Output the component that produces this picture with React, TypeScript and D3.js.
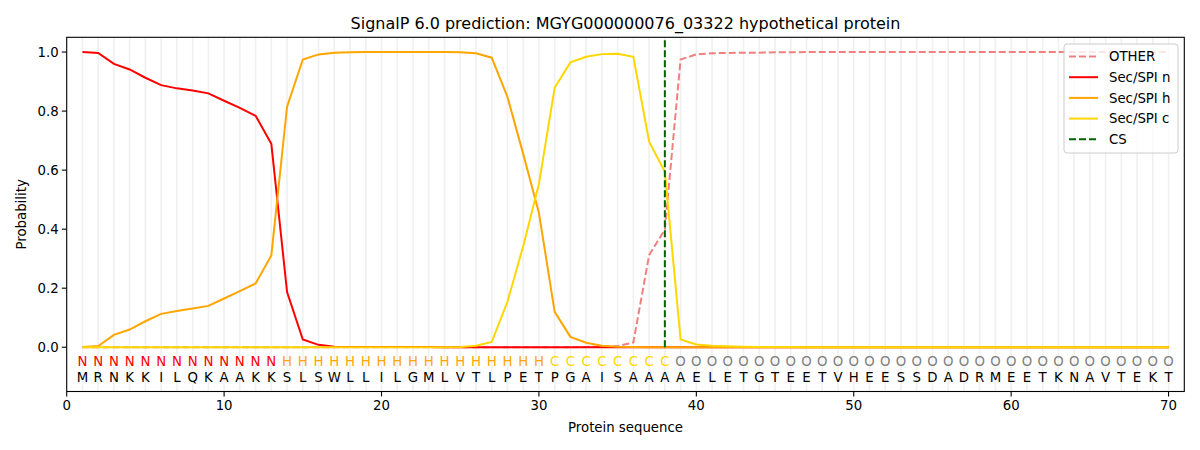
import * as d3 from "d3";

// per-residue probabilities (positions 1..70)
const sequence = "MRNKKILQKAAKKSLSWLLILGMLVTLPETPGAISAAAAELETGTEETVHEESSDADRMEETKNAVTEKT".split("");
const labels = "NNNNNNNNNNNNNHHHHHHHHHHHHHHHHHCCCCCCCCOOOOOOOOOOOOOOOOOOOOOOOOOOOOOOOO".split("");

const other = [
  0, 0, 0, 0, 0, 0, 0, 0, 0, 0,
  0, 0, 0, 0, 0, 0, 0, 0, 0, 0,
  0, 0, 0, 0, 0, 0, 0, 0, 0, 0,
  0, 0, 0.001, 0.002, 0.004, 0.016, 0.312, 0.399, 0.975, 0.992,
  0.996, 0.997, 0.998, 0.998, 0.999, 0.999, 1, 1, 1, 1,
  1, 1, 1, 1, 1, 1, 1, 1, 1, 1,
  1, 1, 1, 1, 1, 1, 1, 1, 1, 1,
];
const secN = [
  1.0, 0.997, 0.96, 0.941, 0.913, 0.888, 0.877, 0.87, 0.86, 0.835,
  0.811, 0.784, 0.689, 0.187, 0.026, 0.008, 0.002, 0.001, 0.001, 0.001,
  0.001, 0.001, 0.001, 0, 0, 0, 0, 0, 0, 0,
  0, 0, 0, 0, 0, 0, 0, 0, 0, 0,
  0, 0, 0, 0, 0, 0, 0, 0, 0, 0,
  0, 0, 0, 0, 0, 0, 0, 0, 0, 0,
  0, 0, 0, 0, 0, 0, 0, 0, 0, 0,
];
const secH = [
  0.001, 0.004, 0.042, 0.06, 0.088, 0.113, 0.123, 0.131, 0.14, 0.165,
  0.19, 0.216, 0.311, 0.815, 0.975, 0.992, 0.998, 0.999, 1.0, 1.0,
  1.0, 1.0, 1.0, 1.0, 0.999, 0.996, 0.981, 0.848, 0.655, 0.455,
  0.12, 0.035, 0.015, 0.005, 0.002, 0.001, 0, 0, 0, 0,
  0, 0, 0, 0, 0, 0, 0, 0, 0, 0,
  0, 0, 0, 0, 0, 0, 0, 0, 0, 0,
  0, 0, 0, 0, 0, 0, 0, 0, 0, 0,
];
const secC = [
  0, 0, 0, 0, 0, 0, 0, 0, 0, 0,
  0, 0, 0, 0, 0, 0, 0, 0, 0, 0,
  0, 0, 0, 0, 0.001, 0.005, 0.018, 0.154, 0.342, 0.553,
  0.879, 0.965, 0.984, 0.993, 0.994, 0.984, 0.696, 0.594, 0.026, 0.009,
  0.005, 0.003, 0.002, 0.001, 0.001, 0.001, 0, 0, 0, 0,
  0, 0, 0, 0, 0, 0, 0, 0, 0, 0,
  0, 0, 0, 0, 0, 0, 0, 0, 0, 0,
];
const csPos = 38;

const xTicks = [0, 10, 20, 30, 40, 50, 60, 70];
const yTicks = [0, 0.2, 0.4, 0.6, 0.8, 1.0];

const labelColor: Record<string, string> = { N: "#ff0000", H: "#ffa500", C: "#ffd700", O: "#808080" };

const series = [
  { name: "OTHER", values: other, color: "#f08080", dash: "7,3" },
  { name: "Sec/SPI n", values: secN, color: "#ff0000", dash: "" },
  { name: "Sec/SPI h", values: secH, color: "#ffa500", dash: "" },
  { name: "Sec/SPI c", values: secC, color: "#ffd700", dash: "" },
];

const W = 1200;
const H = 450;
const font = "DejaVu Sans, sans-serif";

export default function App() {
  const x = d3.scaleLinear().domain([0, 71]).range([66.7, 1184.3]);
  const y = d3.scaleLinear().domain([-0.15, 1.05]).range([391.5, 37.3]);
  const [left, right] = x.range();
  const [bottom, top] = y.range();

  const line = d3
    .line<number>()
    .x((_, i) => x(i + 1))
    .y((d) => y(d));

  const positions = d3.range(1, sequence.length + 1);

  const legendItems = [
    ...series.map((s) => ({ name: s.name, color: s.color, dash: s.dash })),
    { name: "CS", color: "#006400", dash: "7,3" },
  ];

  return (
    <svg width={W} height={H} style={{ position: "absolute", left: 0, top: 0, background: "#fff" }} fontFamily={font}>
      <defs>
        <clipPath id="plot">
          <rect x={left} y={top} width={right - left} height={bottom - top} />
        </clipPath>
      </defs>

      {/* vertical guides at each residue */}
      {positions.map((p) => (
        <line key={"g" + p} x1={x(p)} x2={x(p)} y1={top} y2={bottom} stroke="#f0f0f0" strokeWidth={1.6} />
      ))}

      <g clipPath="url(#plot)">
        {series.map((s) => (
          <path
            key={s.name}
            d={line(s.values) ?? ""}
            fill="none"
            stroke={s.color}
            strokeWidth={2}
            strokeDasharray={s.dash || undefined}
          />
        ))}
        <line
          x1={x(csPos)}
          x2={x(csPos)}
          y1={y(0)}
          y2={y(1.05)}
          stroke="#006400"
          strokeWidth={2}
          strokeDasharray="7,3"
        />
      </g>

      {/* residue labels and amino acids */}
      {positions.map((p, i) => (
        <g key={"t" + p} fontSize={13.3} textAnchor="middle">
          <text x={x(p)} y={y(-0.047)} dy="0.36em" fill={labelColor[labels[i]]}>
            {labels[i]}
          </text>
          <text x={x(p)} y={y(-0.1)} dy="0.36em" fill="#000">
            {sequence[i]}
          </text>
        </g>
      ))}

      {/* frame */}
      <rect x={left} y={top} width={right - left} height={bottom - top} fill="none" stroke="#000" strokeWidth={1.1} />

      {/* x axis */}
      {xTicks.map((t) => (
        <g key={"x" + t}>
          <line x1={x(t)} x2={x(t)} y1={bottom} y2={bottom + 4.9} stroke="#000" strokeWidth={1.1} />
          <text x={x(t)} y={bottom + 18} textAnchor="middle" fontSize={13.3}>
            {t}
          </text>
        </g>
      ))}
      <text x={(left + right) / 2} y={432} textAnchor="middle" fontSize={13.3}>
        Protein sequence
      </text>

      {/* y axis */}
      {yTicks.map((t) => (
        <g key={"y" + t}>
          <line x1={left - 4.9} x2={left} y1={y(t)} y2={y(t)} stroke="#000" strokeWidth={1.1} />
          <text x={left - 8} y={y(t)} dy="0.36em" textAnchor="end" fontSize={13.3}>
            {d3.format(".1f")(t)}
          </text>
        </g>
      ))}
      <text transform={`translate(26,${(top + bottom) / 2}) rotate(-90)`} textAnchor="middle" fontSize={13.3}>
        Probability
      </text>

      <text x={(left + right) / 2} y={29} textAnchor="middle" fontSize={16}>
        SignalP 6.0 prediction: MGYG000000076_03322 hypothetical protein
      </text>

      {/* legend */}
      <g>
        <rect x={1064} y={44} width={114} height={109} rx={3} fill="#fff" fillOpacity={0.8} stroke="#cccccc" strokeWidth={1} />
        {legendItems.map((it, i) => {
          const ly = 56.5 + i * 20.7;
          return (
            <g key={it.name}>
              <line
                x1={1069}
                x2={1098}
                y1={ly}
                y2={ly}
                stroke={it.color}
                strokeWidth={2}
                strokeDasharray={it.dash || undefined}
              />
              <text x={1109} y={ly} dy="0.36em" fontSize={13.3}>
                {it.name}
              </text>
            </g>
          );
        })}
      </g>
    </svg>
  );
}
